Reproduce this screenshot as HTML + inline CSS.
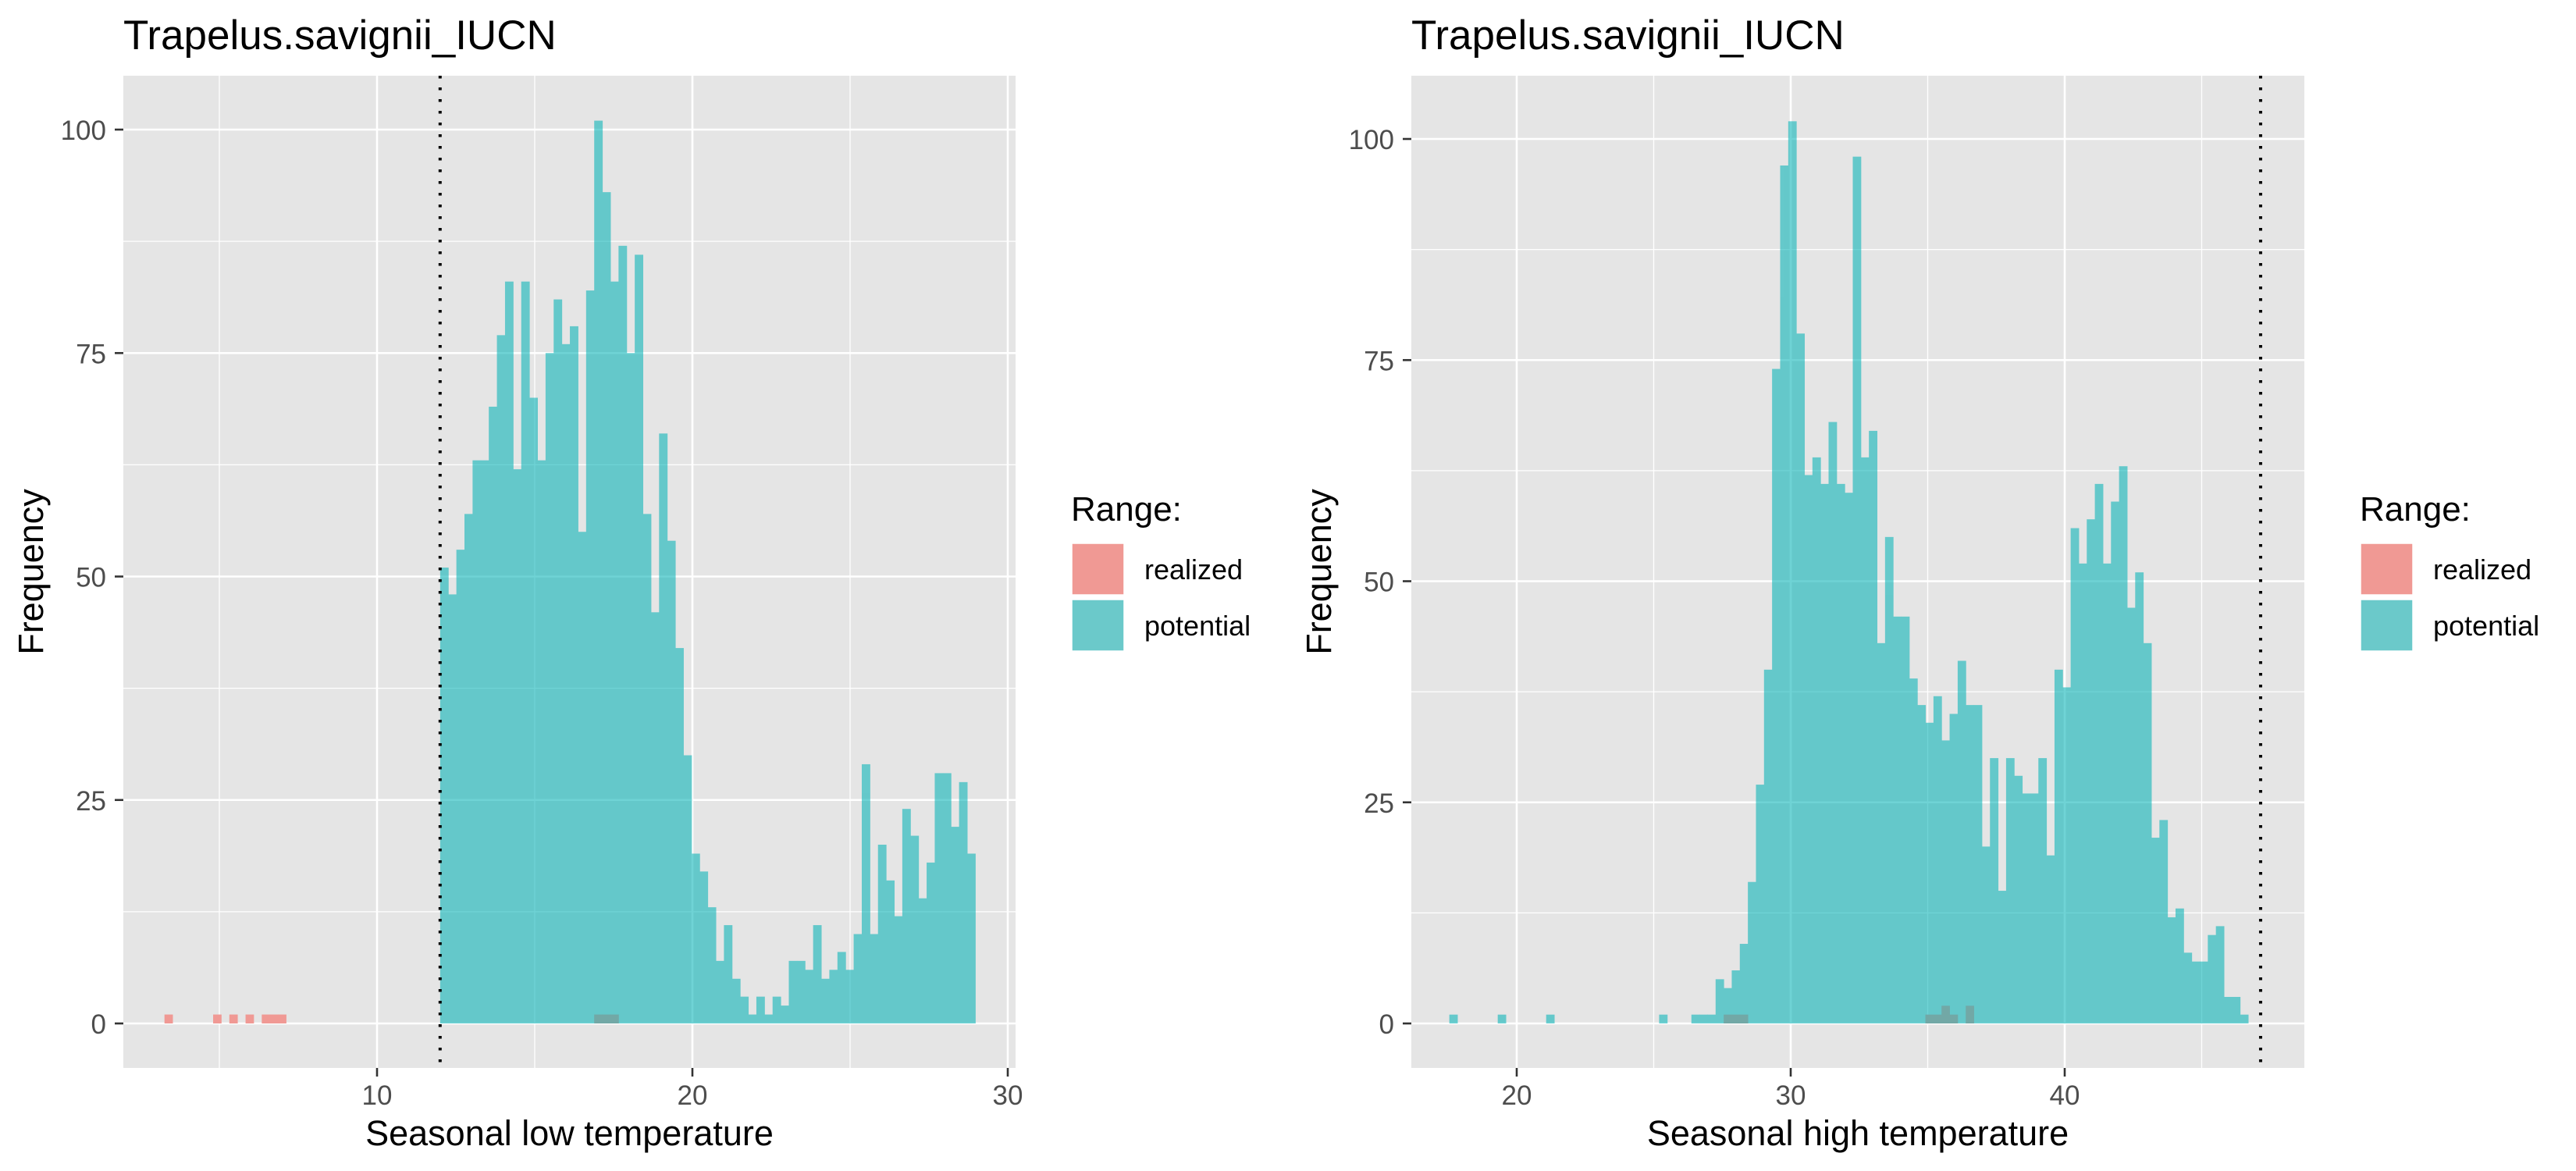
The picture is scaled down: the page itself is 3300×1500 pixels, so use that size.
<!DOCTYPE html>
<html><head><meta charset="utf-8"><style>
html,body{margin:0;padding:0;background:#fff;}
svg{display:block;font-family:"Liberation Sans",Arial,sans-serif;}
</style></head><body>
<svg id="chart" width="3300" height="1500" viewBox="0 0 3300 1500" xmlns="http://www.w3.org/2000/svg"></svg>
<script>
// ---------- Data: left panel (Seasonal low temperature) ----------
const lowBinStart = 3.26;
const lowBinWidth = 0.2571;
const lowPotentialFirstBin = 34;
const lowPotentialCounts = [51,48,53,57,63,63,69,77,83,62,83,70,63,75,81,76,78,55,82,101,93,83,87,75,86,57,46,66,54,42,30,19,17,13,7,11,5,3,1,3,1,3,2,7,7,6,11,5,6,8,6,10,29,10,20,16,12,24,21,14,18,28,28,22,27,19];
const lowRealizedBins = [0,6,8,10,12,13,14,53,54,55];
const lowRealizedCounts = [1,1,1,1,1,1,1,1,1,1];
const lowThreshold = 12.0;
const lowXTicks = [10,20,30];
const lowXMinor = [5,15,25];

// ---------- Data: right panel (Seasonal high temperature) ----------
const highBinStart = 17.54;
const highBinWidth = 0.2945;
const highPotentialBins = [0,6,12,26,30,31,32,33,34,35,36];
const highPotentialLowCounts = [1,1,1,1,1,1,1,5,4,6,9];
const highPotentialFirstBin = 37;
const highPotentialCounts = [16,27,40,74,97,102,78,62,64,61,68,61,60,98,64,67,43,55,46,46,39,36,34,37,32,35,41,36,36,20,30,15,30,28,26,26,30,19,40,38,56,52,57,61,52,59,63,47,51,43,21,23,12,13,8,7,7,10,11,3,3,1];
const highRealizedBins = [34,35,36,59,60,61,62,64];
const highRealizedCounts = [1,1,1,1,1,2,1,2];
const highThreshold = 47.15;
const highXTicks = [20,30,40];
const highXMinor = [25,35,45];

const yTicks = [0,25,50,75,100];
const yMinor = [12.5,37.5,62.5,87.5];

const NS = "http://www.w3.org/2000/svg";
const svg = document.getElementById('chart');
function mk(tag, attrs, parent){
  const e = document.createElementNS(NS, tag);
  for (const k in attrs) e.setAttribute(k, attrs[k]);
  (parent||svg).appendChild(e);
  return e;
}
const TEAL = "rgb(0,178,182)";
const SALMON = "#f09994";
const OVERLAP = "#72a8a6";

function panel(cfg){
  const g = mk('g', {});
  
  
  const L = cfg.left, R = cfg.right, T = 97, B = 1368;
  const x = u => cfg.x0px + (u - cfg.x0) * cfg.xs;
  const y = v => 1311 - v * cfg.ys;
  const bg = mk('rect', {x:L, y:T, width:R-L, height:B-T, fill:'#e5e5e5'}, g);
  
  
  cfg.xMinor.forEach(v => {
    const l = mk('line', {x1:x(v), x2:x(v), y1:T, y2:B, stroke:'#fff', 'stroke-width':1.3}, g);
    
    
  });
  yMinor.forEach(v => {
    const l = mk('line', {x1:L, x2:R, y1:y(v), y2:y(v), stroke:'#fff', 'stroke-width':1.3}, g);
    
    
  });
  cfg.xTicks.forEach(v => {
    const l = mk('line', {x1:x(v), x2:x(v), y1:T, y2:B, stroke:'#fff', 'stroke-width':2.6}, g);
    
    
  });
  yTicks.forEach(v => {
    const l = mk('line', {x1:L, x2:R, y1:y(v), y2:y(v), stroke:'#fff', 'stroke-width':2.6}, g);
    
    
  });
  // potential bars (group opacity -> no seams)
  const bars = mk('g', {opacity:0.56}, g);
  
  
  const teal = {};
  cfg.potBins.forEach((b, i) => { teal[b] = cfg.potVals[i]; });
  Object.keys(teal).forEach(k => {
    const b = +k, v = teal[b];
    if (!v) return;
    const x1 = x(cfg.bs + b*cfg.bw), x2 = x(cfg.bs + (b+1)*cfg.bw);
    const r = mk('rect', {x:x1, y:y(v), width:x2-x1+0.5, height:y(0)-y(v), fill:TEAL}, bars);
    
    
  });
  cfg.realBins.forEach((b, i) => {
    const v = cfg.realVals[i];
    const x1 = x(cfg.bs + b*cfg.bw), x2 = x(cfg.bs + (b+1)*cfg.bw);
    const r = mk('rect', {x:x1, y:y(v), width:x2-x1+0.4, height:y(0)-y(v), fill: teal[b] ? OVERLAP : SALMON}, g);
    
    
  });
  const th = mk('line', {x1:x(cfg.th), x2:x(cfg.th), y1:T, y2:B, stroke:'#000', 'stroke-width':4, 'stroke-dasharray':'3.5 11.5'}, g);
  
  
  yTicks.forEach(v => {
    const t = mk('line', {x1:L-11, x2:L, y1:y(v), y2:y(v), stroke:'#333', 'stroke-width':2.6}, g);
    
    
    const tx = mk('text', {x:L-22, y:y(v)+13, 'text-anchor':'end', 'font-size':35, fill:'#4d4d4d'}, g);
    tx.textContent = v;
    
    
  });
  cfg.xTicks.forEach(v => {
    const t = mk('line', {x1:x(v), x2:x(v), y1:B, y2:B+11, stroke:'#333', 'stroke-width':2.6}, g);
    
    
    const tx = mk('text', {x:x(v), y:1415, 'text-anchor':'middle', 'font-size':35, fill:'#4d4d4d'}, g);
    tx.textContent = v;
    
    
  });
  const xt = mk('text', {x:(L+R)/2, y:1467, 'text-anchor':'middle', 'font-size':45, fill:'#000'}, g);
  xt.textContent = cfg.xTitle;
  
  
  const yt = mk('text', {x:0, y:0, 'text-anchor':'middle', 'font-size':45, fill:'#000', transform:`translate(${L-103},${(T+B)/2}) rotate(-90)`}, g);
  yt.textContent = 'Frequency';
  
  
  const ti = mk('text', {x:L, y:63, 'font-size':53, fill:'#000'}, g);
  ti.textContent = 'Trapelus.savignii_IUCN';
  
  
  const lg = mk('g', {}, g);
  
  
  const lx = R + 71;
  const lt = mk('text', {x:lx, y:667, 'font-size':44, fill:'#000'}, lg);
  lt.textContent = 'Range:';
  
  
  [['realized', SALMON, 696],['potential', '#6bc9ca', 768]].forEach(([lab, col, ky]) => {
    const k = mk('rect', {x:lx+1, y:ky, width:67, height:66, fill:col, stroke:'#fff', 'stroke-width':1.5}, lg);
    
    
    const t = mk('text', {x:lx+94, y:ky+46, 'font-size':36, fill:'#000'}, lg);
    t.textContent = lab;
    
    
  });
}

const lowPotBins = lowPotentialCounts.map((_, i) => lowPotentialFirstBin + i);
panel({name:'panel-seasonal-low', left:158, right:1301, x0:10, x0px:483, xs:40.4, ys:11.45,
  bs:lowBinStart, bw:lowBinWidth, potBins:lowPotBins, potVals:lowPotentialCounts,
  realBins:lowRealizedBins, realVals:lowRealizedCounts, th:lowThreshold,
  xTicks:lowXTicks, xMinor:lowXMinor, xTitle:'Seasonal low temperature'});

const highPotBins = highPotentialBins.concat(highPotentialCounts.map((_, i) => highPotentialFirstBin + i));
const highPotVals = highPotentialLowCounts.concat(highPotentialCounts);
panel({name:'panel-seasonal-high', left:1808, right:2952, x0:40, x0px:2645, xs:35.1, ys:11.33,
  bs:highBinStart, bw:highBinWidth, potBins:highPotBins, potVals:highPotVals,
  realBins:highRealizedBins, realVals:highRealizedCounts, th:highThreshold,
  xTicks:highXTicks, xMinor:highXMinor, xTitle:'Seasonal high temperature'});
</script>
</body></html>
